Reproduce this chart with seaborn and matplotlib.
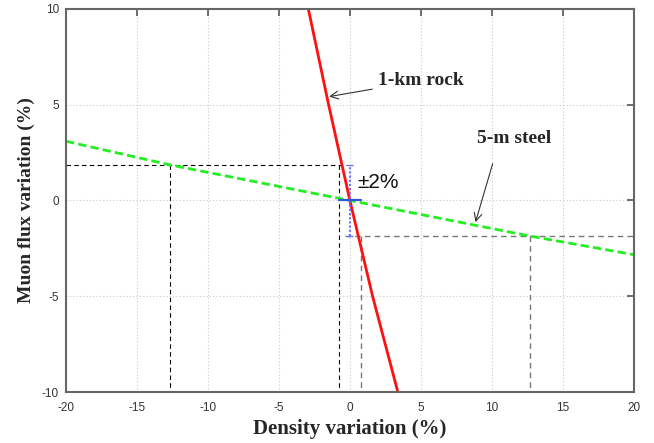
import matplotlib

matplotlib.use("Agg")
import matplotlib.pyplot as plt
import pandas as pd
import seaborn as sns

# values
rock_density = [-2.93, -1.5, 0.0, 1.6, 3.38]
rock_flux = [10.0, 5.0, 0.0, -5.0, -10.0]

steel_density = [-20.0, -12.7, 0.0, 12.7, 20.0]
steel_flux = [3.09, 1.86, 0.0, -1.86, -2.83]

flux_error = 1.86
rock_density_error = 0.75
steel_density_error = 12.7

x_ticks = [-20, -15, -10, -5, 0, 5, 10, 15, 20]
y_ticks = [-10, -5, 0, 5, 10]

SERIF_BOLD = dict(family="Liberation Serif", weight="bold")

sns.set_style("white")
plt.rcParams["font.family"] = ["Liberation Sans", "DejaVu Sans"]

fig = plt.figure(figsize=(6.54, 4.43), dpi=100)
ax = fig.add_axes([0.101, 0.115, 0.868, 0.865])

ax.grid(True, color="#c8c8c8", linestyle=(0, (1, 2)), linewidth=0.8)
ax.set_axisbelow(True)

# guide lines for the +-2% flux window
ax.plot([-20, -0.2], [flux_error, flux_error], color="black", linestyle=(0, (4, 3)), linewidth=0.8)
ax.plot([-0.35, 20], [-flux_error, -flux_error], color="#777777", linestyle=(0, (4, 3)), linewidth=1.0)
ax.plot([-steel_density_error] * 2, [flux_error, -10], color="black", linestyle=(0, (4, 3)), linewidth=0.8)
ax.plot([-rock_density_error] * 2, [flux_error, -10], color="black", linestyle=(0, (4, 3)), linewidth=0.8)
ax.plot([steel_density_error] * 2, [-flux_error, -10], color="#777777", linestyle=(0, (4, 3)), linewidth=1.0)
ax.plot([0.77, 0.77], [-flux_error, -10], color="#777777", linestyle=(0, (4, 3)), linewidth=1.0)

steel = pd.DataFrame({"density": steel_density, "flux": steel_flux})
rock = pd.DataFrame({"density": rock_density, "flux": rock_flux})

sns.lineplot(data=steel, x="density", y="flux", ax=ax, color="#22ee22",
             linewidth=2.0, linestyle=(0, (3, 1.5)), sort=False)
sns.lineplot(data=rock, x="density", y="flux", ax=ax, color="#ff1010",
             linewidth=2.0, sort=False)

# error markers at the origin
bars = ax.errorbar([0], [0], yerr=flux_error, fmt="none", ecolor="#6f6fff",
                   elinewidth=1.5, capsize=2.5)
bars[2][0].set_linestyle((0, (1, 1)))
ax.plot([-rock_density_error, rock_density_error], [0, 0], color="#3355dd", linewidth=1.6)

ax.text(0.56, 0.94, "±2%", fontsize=15, va="center", ha="left", color="#111111")

ax.annotate("1-km rock", xy=(-1.46, 5.42), xytext=(2.0, 6.25),
            fontsize=14, va="center", ha="left", **SERIF_BOLD,
            arrowprops=dict(arrowstyle="->", color="#333333", lw=0.8, shrinkA=2, shrinkB=0))
ax.annotate("5-m steel", xy=(8.85, -1.13), xytext=(8.94, 3.23),
            fontsize=14, va="center", ha="left", **SERIF_BOLD,
            arrowprops=dict(arrowstyle="->", color="#333333", lw=0.8, shrinkA=10, shrinkB=0,
                            relpos=(0.28, 0.0)))

ax.set_xlim(-20, 20)
ax.set_ylim(-10, 10)
ax.set_xticks(x_ticks)
ax.set_yticks(y_ticks)
ax.set_xticklabels([str(t) for t in x_ticks])
ax.set_yticklabels([str(t) for t in y_ticks])
ax.tick_params(direction="in", length=5, width=1.2, color="#555555",
               labelsize=8.5, labelcolor="#333333", top=True, right=True)
ax.tick_params(axis="x", pad=7)
ax.tick_params(axis="y", pad=5)

for spine in ax.spines.values():
    spine.set_color("#666666")
    spine.set_linewidth(1.5)

ax.set_xlabel("Density variation (%)", fontsize=15, labelpad=4, **SERIF_BOLD)
ax.set_ylabel("Muon flux variation (%)", fontsize=14, labelpad=5, **SERIF_BOLD)

fig.savefig("out.png", dpi=100)
plt.close(fig)
